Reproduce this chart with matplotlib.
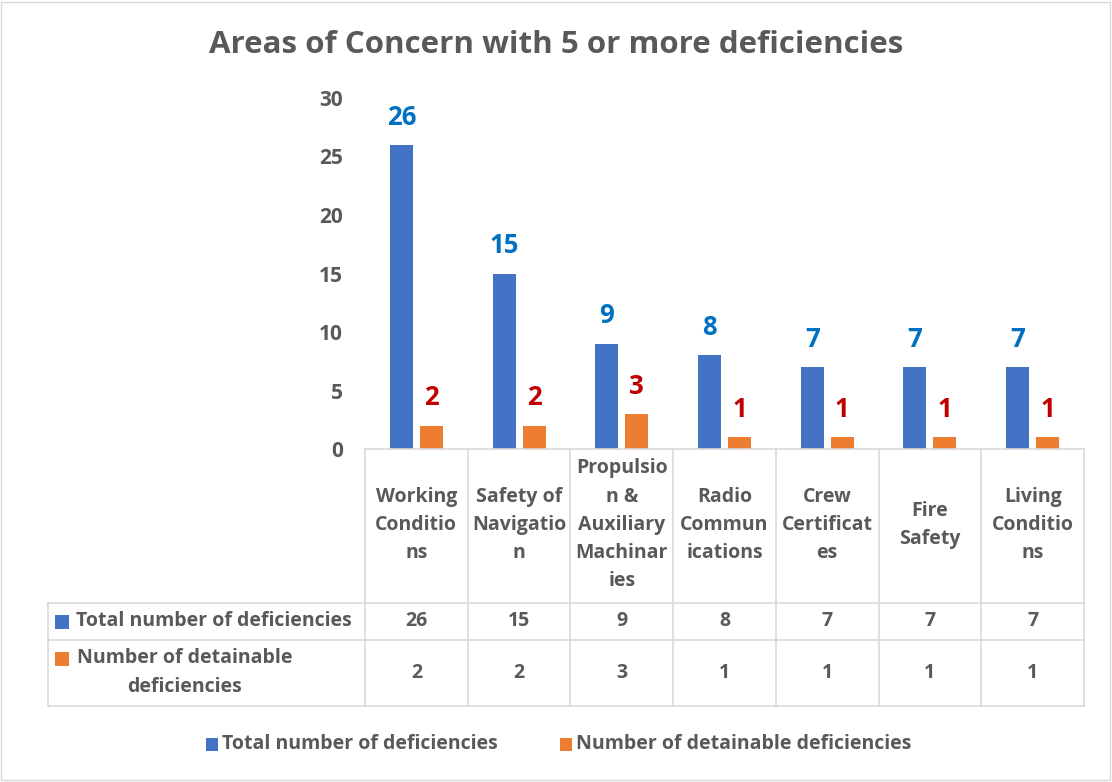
"""
Bar chart with data table: areas of concern with 5 or more deficiencies.
"""

import numpy as np
import matplotlib
matplotlib.use('Agg')
from matplotlib import pyplot as plt
from matplotlib import patches

plt.rcParams['font.family'] = ['Open Sans', 'DejaVu Sans']

categories = ['Working Conditions', 'Safety of Navigation', 'Propulsion & Auxiliary Machinaries',
              'Radio Communications', 'Crew Certificates', 'Fire Safety', 'Living Conditions']
# wrapped the way the spreadsheet wraps them in the table header
cat_labels = ['Working\nConditio\nns', 'Safety of\nNavigatio\nn', 'Propulsio\nn &\nAuxiliary\nMachinar\nies',
              'Radio\nCommun\nications', 'Crew\nCertificat\nes', 'Fire\nSafety', 'Living\nConditio\nns']
total = [26, 15, 9, 8, 7, 7, 7]
detainable = [2, 2, 3, 1, 1, 1, 1]
series_names = ['Total number of deficiencies', 'Number of detainable deficiencies']
row_labels = ['Total number of deficiencies', 'Number of detainable\ndeficiencies']
yticks = [0, 5, 10, 15, 20, 25, 30]
title = 'Areas of Concern with 5 or more deficiencies'

BLUE = '#4472C4'
ORANGE = '#ED7D31'
TEXT = '#595959'
GRID = '#D9D9D9'

W, H = 1112, 782
FS = 14


def fx(px):
    return px / W


def fy(py):
    return 1 - py / H


def main():
    fig = plt.figure(figsize=(W / 100, H / 100), dpi=100)

    # outer frame
    fig.patches.append(patches.Rectangle((fx(1), fy(780)), fx(1109), 778 / H, transform=fig.transFigure,
                                         fill=False, edgecolor=GRID, linewidth=1))

    x0, x1, ytop, ybot = 365, 1084, 98, 449
    ax = fig.add_axes([fx(x0), fy(ybot), fx(x1 - x0), (ybot - ytop) / H])
    x = np.arange(len(categories))
    bw = 0.224
    off = 0.146
    ax.bar(x - off, total, bw, color=BLUE)
    ax.bar(x + off, detainable, bw, color=ORANGE)

    for xi, v in zip(x, total):
        ax.annotate(str(v), (xi - off, v), xytext=(0, 20), textcoords='offset points',
                    ha='center', va='center', fontsize=18.5, fontweight='bold', color='#0070C0')
    for xi, v in zip(x, detainable):
        ax.annotate(str(v), (xi + off, v), xytext=(0, 20), textcoords='offset points',
                    ha='center', va='center', fontsize=18.5, fontweight='bold', color='#C00000')

    ax.set_xlim(-0.5, len(categories) - 0.5)
    ax.set_ylim(0, 30)
    ax.set_yticks(yticks)
    ax.set_yticklabels([str(t) for t in yticks], fontsize=15, fontweight='bold', color=TEXT)
    ax.set_xticks([])
    ax.tick_params(axis='y', length=0, pad=16)
    for s in ax.spines.values():
        s.set_visible(False)

    # data table below the bars
    col = (x1 - x0) / len(categories)
    tleft, tbot = 48, 706
    tab = fig.add_axes([fx(tleft), fy(tbot), fx(x1 - tleft), (tbot - ybot) / H])
    lx = -0.5 - (x0 - tleft) / col
    tab.set_xlim(lx, len(categories) - 0.5)
    tab.set_ylim(tbot, ybot)
    tab.axis('off')

    r1, r2 = 603, 640
    lw = 1.2
    # horizontal rules
    tab.plot([-0.5, len(categories) - 0.5], [ybot, ybot], color=GRID, lw=lw, clip_on=False)
    for yy in (r1, r2, tbot):
        tab.plot([lx, len(categories) - 0.5], [yy, yy], color=GRID, lw=lw, clip_on=False)
    # vertical rules
    for i in range(len(categories) + 1):
        tab.plot([i - 0.5, i - 0.5], [ybot, tbot], color=GRID, lw=lw, clip_on=False)
    tab.plot([lx, lx], [r1, tbot], color=GRID, lw=lw, clip_on=False)

    for i, lab in enumerate(cat_labels):
        tab.text(i, (ybot + r1) / 2 - 1, lab, ha='center', va='center', fontsize=FS, fontweight='bold',
                 color=TEXT, linespacing=1.55)
        tab.text(i, (r1 + r2) / 2, str(total[i]), ha='center', va='center', fontsize=FS,
                 fontweight='bold', color=TEXT)
        tab.text(i, (r2 + tbot) / 2, str(detainable[i]), ha='center', va='center', fontsize=FS,
                 fontweight='bold', color=TEXT)

    # row headers with colour keys
    for (yc, c) in [((r1 + r2) / 2, BLUE), ((r2 + tbot) / 2 - 14, ORANGE)]:
        fig.patches.append(patches.Rectangle((fx(55), fy(yc + 7)), fx(14), 14 / H, transform=fig.transFigure,
                                             facecolor=c, edgecolor='none'))
    fig.text(fx(76), fy((r1 + r2) / 2), row_labels[0], ha='left', va='center', fontsize=FS,
             fontweight='bold', color=TEXT)
    fig.text(fx(185), fy((r2 + tbot) / 2 - 0.5), row_labels[1], ha='center', va='center', fontsize=FS,
             fontweight='bold', color=TEXT, multialignment='center', linespacing=1.55)

    # legend
    for (lx0, c, name) in [(206, BLUE, series_names[0]), (560, ORANGE, series_names[1])]:
        fig.patches.append(patches.Rectangle((fx(lx0), fy(751)), fx(12), 13 / H, transform=fig.transFigure,
                                             facecolor=c, edgecolor='none'))
        fig.text(fx(lx0 + 16), fy(744), name, ha='left', va='center', fontsize=FS,
                 fontweight='bold', color=TEXT)

    fig.text(fx(556), fy(45), title, ha='center', va='center', fontsize=22.5, fontweight='bold', color=TEXT)

    fig.savefig('out.png', dpi=100)


if __name__ == '__main__':
    main()
